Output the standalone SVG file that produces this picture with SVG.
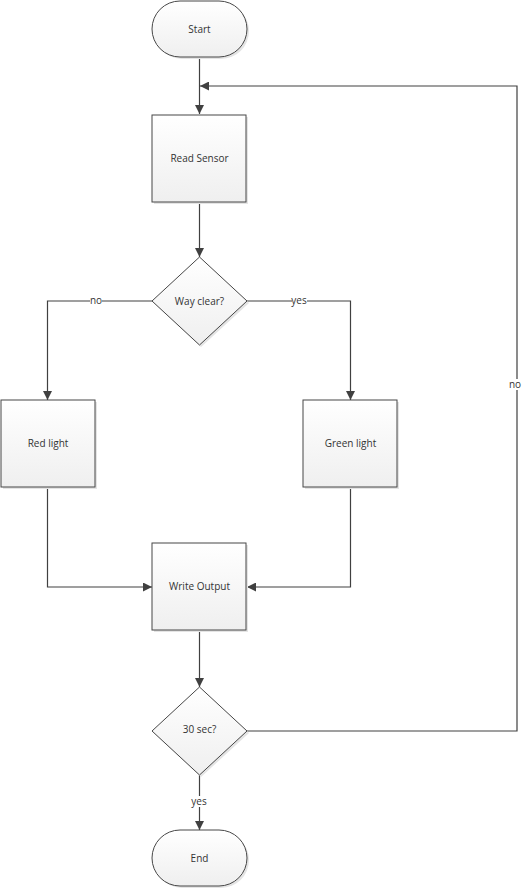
<svg xmlns="http://www.w3.org/2000/svg" width="522" height="890" viewBox="0 0 522 890">
<defs>
<linearGradient id="g" x1="0" y1="0" x2="0" y2="1">
<stop offset="0" stop-color="#ffffff"/>
<stop offset="1" stop-color="#efefef"/>
</linearGradient>
<marker id="a" viewBox="0 0 10 10" refX="10" refY="5" markerWidth="9" markerHeight="9" markerUnits="userSpaceOnUse" orient="auto">
<path d="M0,0 L10,5 L0,10 z" fill="#404040"/>
</marker>
</defs>
<style>
.n{fill:url(#g);stroke:#474747;stroke-width:1}
.s{fill:#e4e4e4;stroke:none}
.t{font-family:"Open Sans","Noto Sans",sans-serif;font-size:10px;fill:#333;text-anchor:middle;dominant-baseline:central}
.c{fill:none;stroke:#404040;stroke-width:1.2}
.lb{font-family:"Open Sans","Noto Sans",sans-serif;font-size:10px;fill:#333;text-anchor:middle;dominant-baseline:central}
</style>
<rect width="522" height="890" fill="#fff"/>
<g id="connectors">
<path class="c" d="M199.5,57 V114" marker-end="url(#a)"/>
<path class="c" d="M199.5,202 V257" marker-end="url(#a)"/>
<path class="c" d="M152,301 H47.5 V400" marker-end="url(#a)"/>
<path class="c" d="M247,301 H350.5 V400" marker-end="url(#a)"/>
<path class="c" d="M47.5,487 V587 H152" marker-end="url(#a)"/>
<path class="c" d="M350.5,487 V587 H247" marker-end="url(#a)"/>
<path class="c" d="M199.5,630 V687" marker-end="url(#a)"/>
<path class="c" d="M247,731 H517 V86 H200" marker-end="url(#a)"/>
<path class="c" d="M199.5,775 V830" marker-end="url(#a)"/>
<rect x="90" y="295" width="12" height="11" fill="#fff"/>
<text class="lb" x="96" y="300">no</text>
<rect x="292" y="295" width="15" height="11" fill="#fff"/>
<text class="lb" x="299" y="300">yes</text>
<rect x="508" y="379" width="14" height="11" fill="#fff"/>
<text class="lb" x="515" y="384">no</text>
<rect x="190" y="796" width="18" height="11" fill="#fff"/>
<text class="lb" x="199" y="801">yes</text>
</g>
<g id="start">
<rect class="s" x="154" y="3" width="95" height="56" rx="28"/>
<rect class="n" x="152" y="1" width="95" height="56" rx="28"/>
<text class="t" x="199.5" y="29">Start</text>
</g>
<g id="read-sensor">
<rect class="s" x="154" y="117" width="94" height="87"/>
<rect class="n" x="152" y="115" width="94" height="87"/>
<text class="t" x="199.5" y="158">Read Sensor</text>
</g>
<g id="way-clear">
<polygon class="s" points="201,259 249,303 201,347 154,303"/>
<polygon class="n" points="199.5,257 247,301 199.5,345 152,301"/>
<text class="t" x="199.5" y="301">Way clear?</text>
</g>
<g id="red-light">
<rect class="s" x="3" y="402" width="94" height="87"/>
<rect class="n" x="1" y="400" width="94" height="87"/>
<text class="t" x="48" y="443">Red light</text>
</g>
<g id="green-light">
<rect class="s" x="305" y="402" width="94" height="87"/>
<rect class="n" x="303" y="400" width="94" height="87"/>
<text class="t" x="350.5" y="443">Green light</text>
</g>
<g id="write-output">
<rect class="s" x="154" y="545" width="94" height="87"/>
<rect class="n" x="152" y="543" width="94" height="87"/>
<text class="t" x="199.5" y="586">Write Output</text>
</g>
<g id="thirty-sec">
<polygon class="s" points="201,689 249,733 201,777 154,733"/>
<polygon class="n" points="199.5,687 247,731 199.5,775 152,731"/>
<text class="t" x="199.5" y="729">30 sec?</text>
</g>
<g id="end">
<rect class="s" x="154" y="832" width="95" height="56" rx="28"/>
<rect class="n" x="152" y="830" width="95" height="56" rx="28"/>
<text class="t" x="199.5" y="858">End</text>
</g>
</svg>
